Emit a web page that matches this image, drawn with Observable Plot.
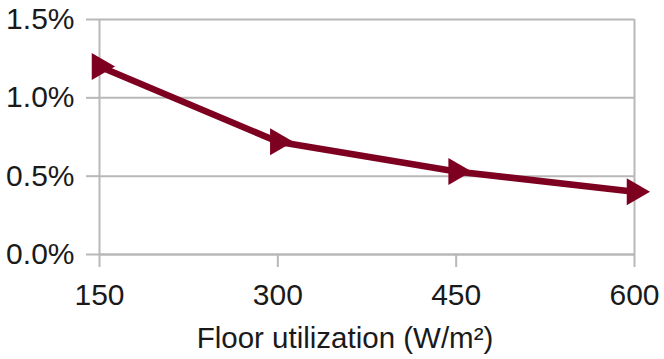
<!DOCTYPE html>
<html>
<head>
<meta charset="utf-8">
<script src="https://cdn.jsdelivr.net/npm/d3@7"></script>
<script src="https://cdn.jsdelivr.net/npm/@observablehq/plot@0.6"></script>
<style>
  html, body { margin: 0; padding: 0; background: #fff; }
</style>
</head>
<body>
<div id="chart"></div>
<script>
const floorUtilization = [150, 300, 450, 600];
const share = [0.012, 0.0072, 0.0053, 0.0040];
const xTicks = [150, 300, 450, 600];
const yTicks = [0, 0.005, 0.01, 0.015];
const xLabel = "Floor utilization (W/m²)";

const data = floorUtilization.map((x, i) => ({x, y: share[i]}));
const gridColor = "#b8b8b8";
const lineColor = "#7e0021";

const chart = Plot.plot({
  width: 664,
  height: 359,
  marginLeft: 99,
  marginRight: 30,
  marginTop: 19,
  marginBottom: 105,
  style: {fontFamily: "'Liberation Sans', Arial, sans-serif", color: "#1a1a1a", background: "#fff"},
  x: {domain: [150, 600]},
  y: {domain: [0, 0.015]},
  marks: [
    Plot.gridY(yTicks, {stroke: gridColor, strokeOpacity: 1, strokeWidth: 2}),
    Plot.ruleX([600], {y1: 0, y2: 0.015, stroke: gridColor, strokeWidth: 2}),
    Plot.ruleX([150], {y1: 0, y2: 0.015, stroke: gridColor, strokeWidth: 2}),
    Plot.ruleY([0], {stroke: gridColor, strokeWidth: 2}),
    Plot.axisY({ticks: yTicks, tickSize: 13, tickPadding: 12, tickFormat: d3.format(".1%"),
      fontSize: 30, stroke: gridColor, strokeWidth: 2, label: null}),
    Plot.axisX({ticks: xTicks, tickSize: 13, tickPadding: 16, tickFormat: d => String(d),
      fontSize: 30, stroke: gridColor, strokeWidth: 2, label: null}),
    Plot.text([xLabel], {frameAnchor: "bottom", lineAnchor: "top", dy: 73, dx: -22,
      text: d => d, fontSize: 29.5, fill: "#1a1a1a"}),
    Plot.line(data, {x: "x", y: "y", stroke: lineColor, strokeWidth: 6.5, strokeLinejoin: "round"}),
    Plot.dot(data, {x: "x", y: "y", symbol: "triangle", rotate: 90, r: 10, fill: lineColor, stroke: "none"})
  ]
});
document.getElementById("chart").appendChild(chart);
</script>
</body>
</html>
